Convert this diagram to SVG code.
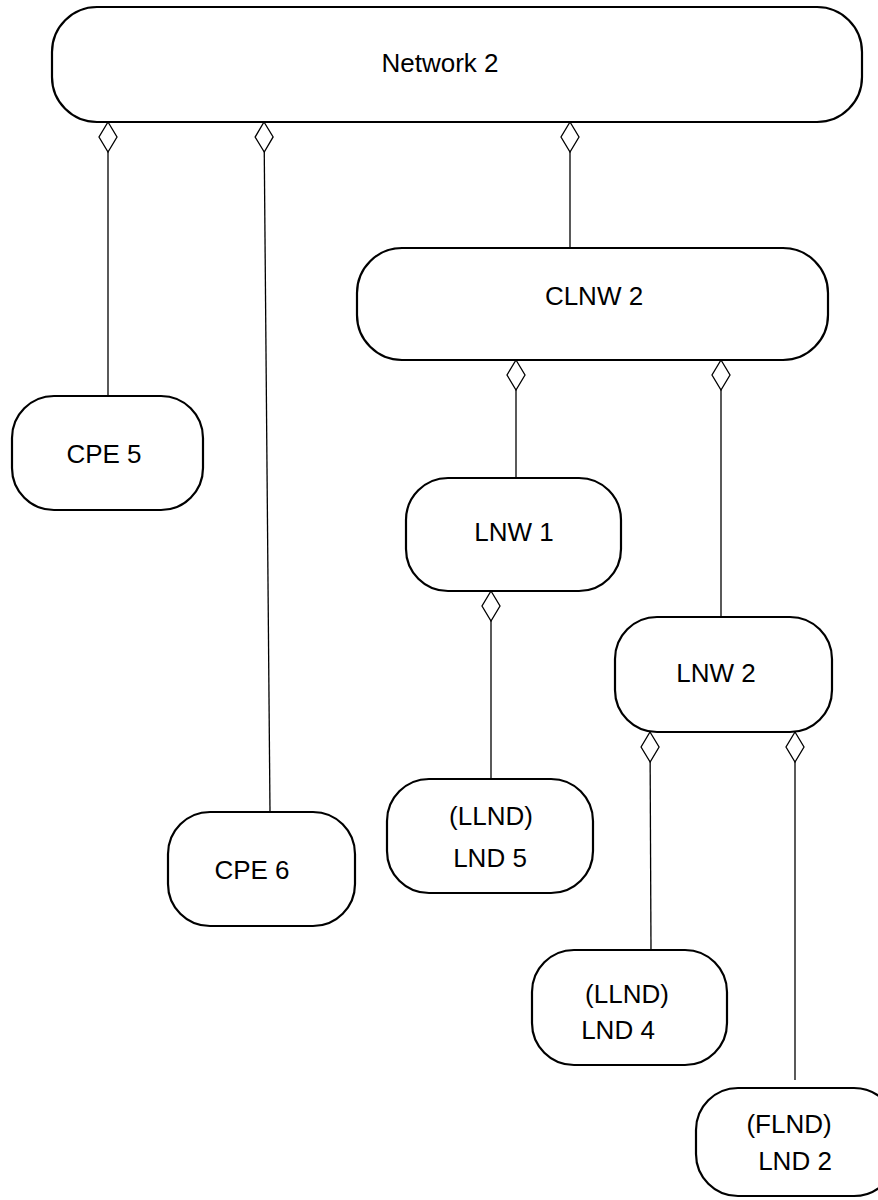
<svg xmlns="http://www.w3.org/2000/svg" width="878" height="1200" viewBox="0 0 878 1200">
<defs>
<style>
.node{fill:#fff;stroke:#000;stroke-width:2.2}
.lbl{font-family:"Liberation Sans",Arial,sans-serif;font-size:26px;fill:#000}
.c{text-anchor:middle}
.conn{fill:none;stroke:#000;stroke-width:1.3;marker-start:url(#dia)}
</style>
<marker id="dia" markerUnits="userSpaceOnUse" orient="auto" refX="0" refY="0" markerWidth="34" markerHeight="24" viewBox="-1 -11 34 22" overflow="visible">
<path d="M0,0 L15,-9 L30,0 L15,9 Z" fill="#fff" stroke="#000" stroke-width="1.3"/>
</marker>
</defs>
<rect width="878" height="1200" fill="#fff"/>
<g id="connectors">
<path class="conn" d="M108,122 L108,396"/>
<path class="conn" d="M264,122 L270,812"/>
<path class="conn" d="M570,122 L570,248"/>
<path class="conn" d="M516,360 L516,478"/>
<path class="conn" d="M721,360 L721,617"/>
<path class="conn" d="M491,591 L491,779"/>
<path class="conn" d="M650,732 L651,950"/>
<path class="conn" d="M795,732 L795,1080"/>
</g>
<g id="network2">
<rect class="node" x="52" y="7" width="810" height="115" rx="45"/>
<text class="lbl c" x="440" y="72">Network 2</text>
</g>
<g id="clnw2">
<rect class="node" x="357" y="248" width="471" height="112" rx="45"/>
<text class="lbl c" x="594" y="305">CLNW 2</text>
</g>
<g id="cpe5">
<rect class="node" x="12" y="396" width="191" height="114" rx="42"/>
<text class="lbl c" x="104" y="463">CPE 5</text>
</g>
<g id="lnw1">
<rect class="node" x="406" y="478" width="215" height="113" rx="42"/>
<text class="lbl c" x="514" y="541">LNW 1</text>
</g>
<g id="lnw2">
<rect class="node" x="615" y="617" width="217" height="115" rx="42"/>
<text class="lbl c" x="716" y="682">LNW 2</text>
</g>
<g id="cpe6">
<rect class="node" x="168" y="812" width="187" height="114" rx="42"/>
<text class="lbl c" x="252" y="879">CPE 6</text>
</g>
<g id="lnd5">
<rect class="node" x="387" y="779" width="206" height="114" rx="42"/>
<text class="lbl c" x="491" y="825">(LLND)</text>
<text class="lbl c" x="490" y="867">LND 5</text>
</g>
<g id="lnd4">
<rect class="node" x="532" y="950" width="195" height="115" rx="42"/>
<text class="lbl c" x="627" y="1003">(LLND)</text>
<text class="lbl c" x="618" y="1039">LND 4</text>
</g>
<g id="lnd2">
<rect class="node" x="696" y="1088" width="200" height="108" rx="42"/>
<text class="lbl c" x="789" y="1133">(FLND)</text>
<text class="lbl c" x="795" y="1170">LND 2</text>
</g>
</svg>
